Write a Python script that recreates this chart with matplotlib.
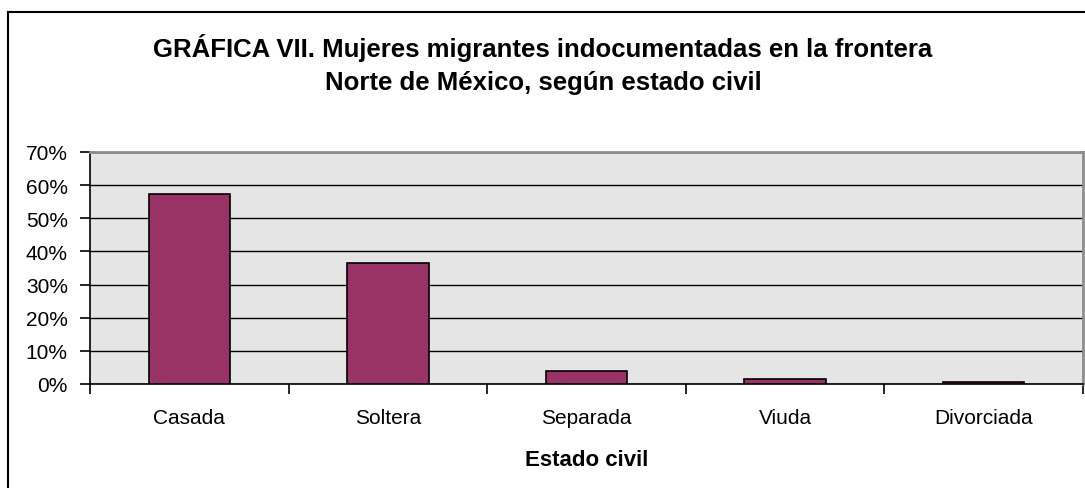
import matplotlib
matplotlib.use("Agg")
import matplotlib.pyplot as plt
from matplotlib.lines import Line2D
from matplotlib.ticker import FixedLocator, PercentFormatter

categories = ["Casada", "Soltera", "Separada", "Viuda", "Divorciada"]
values = [57.2, 36.6, 4.0, 1.4, 0.5]
yticks = [0, 10, 20, 30, 40, 50, 60, 70]
title_line1 = "GRÁFICA VII. Mujeres migrantes indocumentadas en la frontera"
title_line2 = "Norte de México, según estado civil"
xlabel = "Estado civil"

plt.rcParams['font.family'] = ['Liberation Sans', 'DejaVu Sans']

W, H = 1085, 489
fig = plt.figure(figsize=(W / 100, H / 100), dpi=100)
ax = fig.add_axes([90 / W, 104 / H, 993 / W, 232 / H])
ax.set_facecolor('#e5e5e5')

x = list(range(len(categories)))
ax.bar(x, values, width=0.41, color='#993366', edgecolor='black', linewidth=1.2, zorder=3)

ax.set_xlim(-0.5, len(categories) - 0.5)
ax.set_ylim(0, 70)
ax.set_yticks(yticks)
ax.yaxis.set_major_formatter(PercentFormatter(decimals=0))
ax.set_xticks(x)
ax.set_xticklabels(categories, fontsize=15)
ax.xaxis.set_minor_locator(FixedLocator([i - 0.5 for i in range(len(categories) + 1)]))
ax.tick_params(axis='x', which='major', length=0, pad=17)
ax.tick_params(axis='x', which='minor', length=7, width=1.2, direction='out', color='black')
ax.tick_params(axis='y', length=7, width=1.2, direction='out', labelsize=15, pad=9)
ax.grid(axis='y', color='black', linewidth=1.0, zorder=1)
ax.set_axisbelow(True)

for s in ['left', 'bottom']:
    ax.spines[s].set_color('black')
    ax.spines[s].set_linewidth(1.2)
for s in ['top', 'right']:
    ax.spines[s].set_color('#8c8c8c')
    ax.spines[s].set_linewidth(2.0)

ax.set_xlabel(xlabel, fontsize=16, fontweight='bold', labelpad=16)

fig.text(543 / W, 1 - 57 / H, title_line1, ha='center', va='baseline', fontsize=18.5, fontweight='bold')
fig.text(543 / W, 1 - 90 / H, title_line2, ha='center', va='baseline', fontsize=18.5, fontweight='bold')

# outer chart border
fig.add_artist(Line2D([8 / W, 1.0], [1 - 13 / H, 1 - 13 / H], transform=fig.transFigure, color='black', linewidth=1.5))
fig.add_artist(Line2D([8 / W, 8 / W], [0, 1 - 13 / H], transform=fig.transFigure, color='black', linewidth=1.5))

fig.savefig("out.png", dpi=100)
